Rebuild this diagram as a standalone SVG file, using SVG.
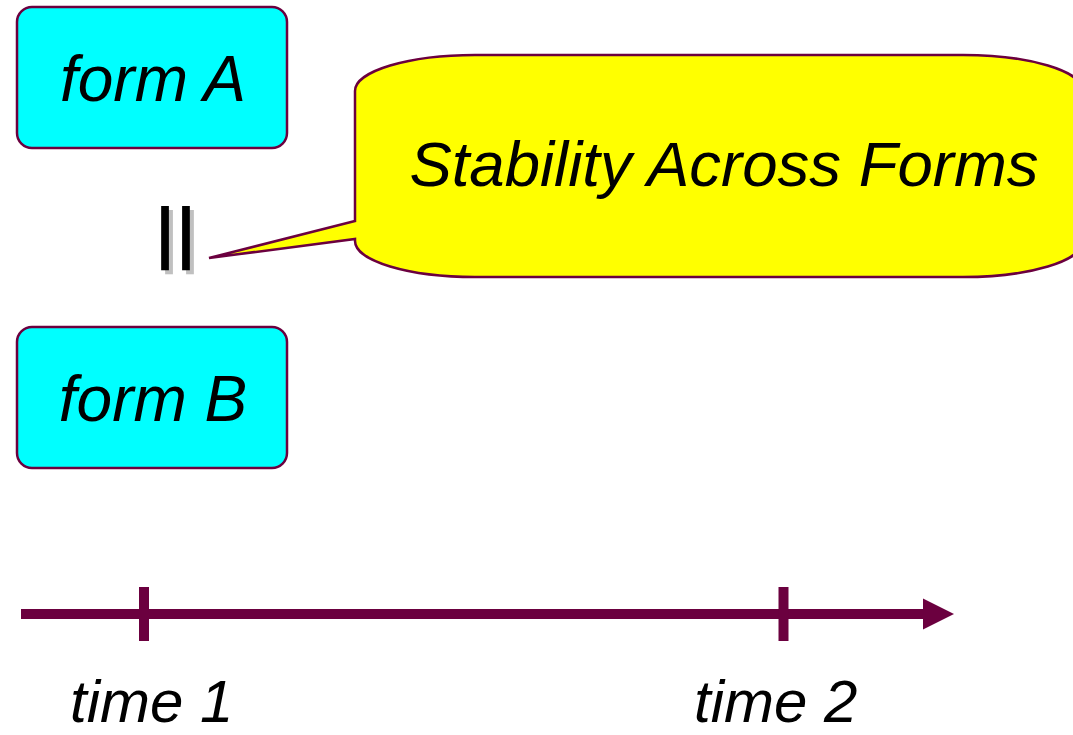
<svg xmlns="http://www.w3.org/2000/svg" width="1073" height="735" viewBox="0 0 1073 735">
  <style>
    .form { fill: #00FFFF; stroke: #6B003F; stroke-width: 2.5; }
    .callout { fill: #FFFF00; stroke: #6B003F; stroke-width: 2.5; stroke-linejoin: miter; }
    .label { font-family: "Liberation Sans", Arial, sans-serif; font-style: italic; fill: #000; }
    .axis { stroke: #6B003F; stroke-width: 10; fill: none; }
    .eq { font-family: "Liberation Sans", Arial, sans-serif; font-size: 127px; text-anchor: middle; stroke-width: 2.6; }
  </style>
  <defs>
    <marker id="arrowhead" markerUnits="userSpaceOnUse" markerWidth="32" markerHeight="32" refX="0" refY="16" orient="auto">
      <path d="M0,0.5 L31,16 L0,31.5 Z" fill="#6B003F"/>
    </marker>
  </defs>

  <!-- form A -->
  <g id="formA">
    <rect class="form" x="17" y="7" width="270" height="141" rx="15" ry="15"/>
    <text class="label" x="153" y="101" font-size="64" text-anchor="middle">form A</text>
  </g>

  <!-- equality sign between the forms, turned upright, with drop shadow -->
  <g id="equals">
    <text class="eq" fill="#C0C0C0" stroke="#C0C0C0" transform="translate(180,242) rotate(90) scale(1,0.66)" x="0" y="43">=</text>
    <text class="eq" fill="#000000" stroke="#000000" transform="translate(176,238) rotate(90) scale(1,0.66)" x="0" y="43">=</text>
  </g>

  <!-- form B -->
  <g id="formB">
    <rect class="form" x="17" y="327" width="270" height="141" rx="15" ry="15"/>
    <text class="label" x="153" y="421" font-size="64" text-anchor="middle">form B</text>
  </g>

  <!-- callout bubble pointing at the equality sign -->
  <g id="callout">
    <path class="callout" d="M355,221 L355,91 A120,36 0 0 1 475,55 L963,55 A120,36 0 0 1 1083,91 L1083,241 A120,36 0 0 1 963,277 L475,277 A120,36 0 0 1 355,241 L355,239 L209,258 Z"/>
    <text class="label" x="724" y="186" font-size="63.5" text-anchor="middle">Stability Across Forms</text>
  </g>

  <!-- time axis -->
  <g id="connectors">
    <line class="axis" x1="21" y1="614" x2="923" y2="614" marker-end="url(#arrowhead)"/>
    <line class="axis" x1="144" y1="587" x2="144" y2="641"/>
    <line class="axis" x1="783.5" y1="587" x2="783.5" y2="641"/>
  </g>

  <g id="time1">
    <text class="label" x="70" y="722" font-size="60">time 1</text>
  </g>
  <g id="time2">
    <text class="label" x="694" y="722" font-size="60">time 2</text>
  </g>
</svg>
